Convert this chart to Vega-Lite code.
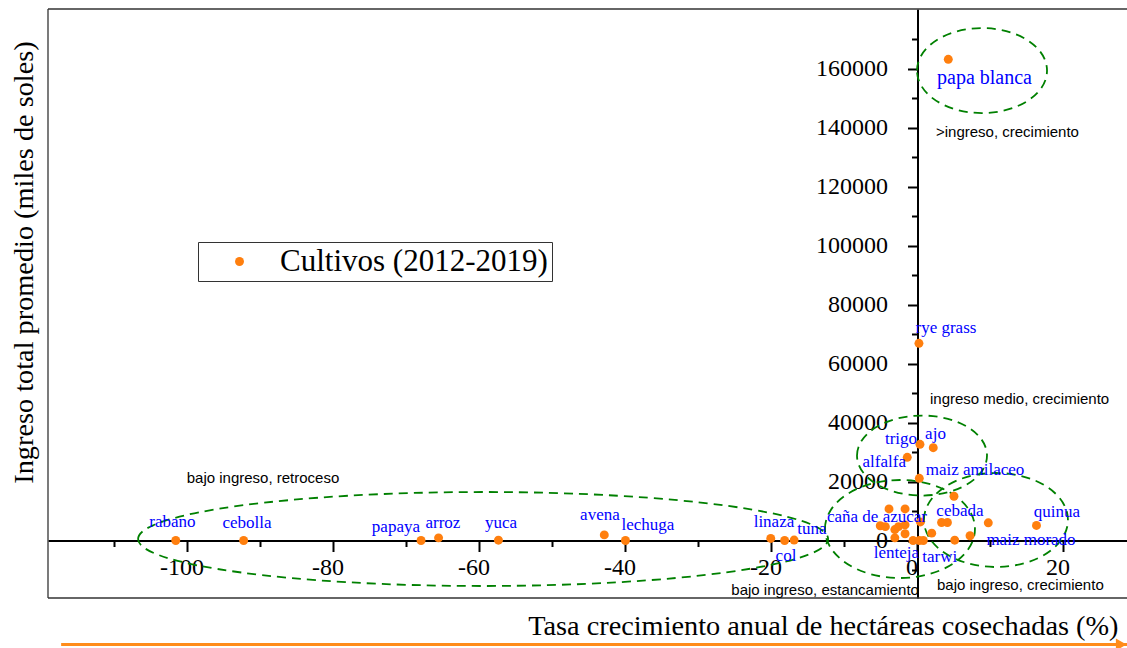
{
  "$schema": "https://vega.github.io/schema/vega-lite/v6.json",
  "width": 1079,
  "height": 589,
  "autosize": "none",
  "padding": {"left": 48, "top": 9, "right": 0, "bottom": 50},
  "background": "white",
  "config": {"view": {"stroke": null}, "axis": {"grid": false}},
  "resolve": {"axis": {"x": "independent", "y": "independent"}},
  "datasets": {
    "cultivos": [
      {"crec": -101.6, "ingreso": 0}, {"crec": -92.3, "ingreso": 0}, {"crec": -68.0, "ingreso": 0},
      {"crec": -65.6, "ingreso": 900}, {"crec": -57.4, "ingreso": 100}, {"crec": -42.9, "ingreso": 1900},
      {"crec": -40.0, "ingreso": 0}, {"crec": -20.1, "ingreso": 700}, {"crec": -18.2, "ingreso": 0},
      {"crec": -16.9, "ingreso": 150}, {"crec": -5.1, "ingreso": 5000}, {"crec": -4.4, "ingreso": 4700},
      {"crec": -3.9, "ingreso": 10700}, {"crec": -3.1, "ingreso": 3700}, {"crec": -2.6, "ingreso": 4700},
      {"crec": -1.7, "ingreso": 5300}, {"crec": -1.7, "ingreso": 10700}, {"crec": -3.1, "ingreso": 900},
      {"crec": -1.7, "ingreso": 2300}, {"crec": -0.6, "ingreso": 0}, {"crec": 0.25, "ingreso": 0},
      {"crec": 0.8, "ingreso": 0}, {"crec": 0.4, "ingreso": 6300}, {"crec": 1.95, "ingreso": 2500},
      {"crec": 3.3, "ingreso": 6100}, {"crec": 4.1, "ingreso": 6100}, {"crec": 5.0, "ingreso": 15000},
      {"crec": 5.1, "ingreso": 100}, {"crec": 7.2, "ingreso": 1600}, {"crec": 9.7, "ingreso": 6000},
      {"crec": 16.3, "ingreso": 5100}, {"crec": -1.4, "ingreso": 28200}, {"crec": 0.34, "ingreso": 32600},
      {"crec": 2.16, "ingreso": 31460}, {"crec": 0.25, "ingreso": 21080}, {"crec": 0.2, "ingreso": 66850},
      {"crec": 4.22, "ingreso": 163120}
    ],
    "etiquetas": [
      {"nombre": "rabano", "lx": -102.05, "ly": 6370},
      {"nombre": "cebolla", "lx": -91.85, "ly": 5830},
      {"nombre": "papaya", "lx": -71.44, "ly": 4680},
      {"nombre": "arroz", "lx": -65.0, "ly": 5830},
      {"nombre": "yuca", "lx": -57.05, "ly": 5830},
      {"nombre": "avena", "lx": -43.5, "ly": 8640},
      {"nombre": "lechuga", "lx": -36.92, "ly": 5250},
      {"nombre": "linaza", "lx": -19.66, "ly": 6370},
      {"nombre": "col", "lx": -18.01, "ly": -5250},
      {"nombre": "tuna", "lx": -14.45, "ly": 3800},
      {"nombre": "caña de azucar", "lx": -5.55, "ly": 7860},
      {"nombre": "lenteja", "lx": -2.88, "ly": -4140},
      {"nombre": "tarwi", "lx": 3.04, "ly": -5490},
      {"nombre": "cebada", "lx": 5.82, "ly": 10000},
      {"nombre": "maiz morado", "lx": 15.55, "ly": 170},
      {"nombre": "quinua", "lx": 19.11, "ly": 9760},
      {"nombre": "maiz amilaceo", "lx": 7.88, "ly": 23900},
      {"nombre": "alfalfa", "lx": -4.55, "ly": 26710},
      {"nombre": "trigo", "lx": -2.26, "ly": 34300},
      {"nombre": "ajo", "lx": 2.47, "ly": 36000},
      {"nombre": "rye grass", "lx": 3.9, "ly": 72140},
      {"nombre": "papa blanca", "lx": 9.18, "ly": 156880}
    ],
    "cuadrantes": [
      {"texto": ">ingreso, crecimiento", "ax": 2.53, "ay": 138470},
      {"texto": "ingreso medio, crecimiento", "ax": 1.71, "ay": 47970},
      {"texto": "bajo ingreso, retroceso", "ax": -100.1, "ay": 21190},
      {"texto": "bajo ingreso, estancamiento", "ax": -25.5, "ay": -16780},
      {"texto": "bajo ingreso, crecimiento", "ax": 2.67, "ay": -14920}
    ]
  },
  "layer": [
    {
      "data": {"values": [{}]},
      "mark": {"type": "rule", "color": "#333333", "strokeWidth": 1.3},
      "encoding": {
        "x": {"datum": -119.1, "type": "quantitative", "scale": {"domain": [-119.1, 28.7], "nice": false, "zero": false}, "axis": null},
        "y": {"datum": -19490, "type": "quantitative", "scale": {"domain": [-19490, 180170], "nice": false, "zero": false}, "axis": null},
        "y2": {"datum": 180170}
      }
    },
    {
      "data": {"values": [{}]},
      "mark": {"type": "rule", "color": "#333333", "strokeWidth": 1.3},
      "encoding": {
        "x": {"datum": -119.1, "type": "quantitative", "scale": {"domain": [-119.1, 28.7], "nice": false, "zero": false}, "axis": null},
        "x2": {"datum": 28.7},
        "y": {"datum": 180170, "type": "quantitative", "scale": {"domain": [-19490, 180170], "nice": false, "zero": false}, "axis": null}
      }
    },
    {
      "data": {"values": [{}]},
      "mark": {"type": "rule", "color": "#333333", "strokeWidth": 1.3},
      "encoding": {
        "x": {"datum": -119.1, "type": "quantitative", "scale": {"domain": [-119.1, 28.7], "nice": false, "zero": false}, "axis": null},
        "x2": {"datum": 28.7},
        "y": {"datum": -19490, "type": "quantitative", "scale": {"domain": [-19490, 180170], "nice": false, "zero": false}, "axis": null}
      }
    },
    {
      "data": {"values": [{"grupo": "retroceso", "cx": -59.5, "cy": 510}]},
      "mark": {"type": "point", "shape": "M-1,0C-1,-0.0752,-0.5523,-0.1362,0,-0.1362C0.5523,-0.1362,1,-0.0752,1,0C1,0.0752,0.5523,0.1362,0,0.1362C-0.5523,0.1362,-1,0.0752,-1,0Z", "size": 476100, "filled": false, "stroke": "#008000", "strokeWidth": 1.8, "strokeDash": [9, 6], "opacity": 1},
      "encoding": {
        "x": {
          "field": "cx", "type": "quantitative", "scale": {"domain": [-119.1, 28.7], "nice": false, "zero": false},
          "axis": {"orient": "bottom", "offset": -57.5, "title": null, "labels": false, "domain": false,
                   "values": [-110, -90, -70, -50, -30, -10, 10],
                   "tickSize": 6, "tickColor": "black", "tickWidth": 2}
        },
        "y": {
          "field": "cy", "type": "quantitative", "scale": {"domain": [-19490, 180170], "nice": false, "zero": false},
          "axis": {"orient": "left", "offset": -869.5, "title": null, "labels": false, "domain": false,
                   "values": [-10000, 10000, 30000, 50000, 70000, 90000, 110000, 130000, 150000, 170000],
                   "tickSize": 6, "tickColor": "black", "tickWidth": 2}
        }
      }
    },
    {
      "data": {"values": [{"grupo": "estancamiento", "cx": -2.4, "cy": 3900}]},
      "mark": {"type": "point", "shape": "M-1,0C-1,-0.3608,-0.5523,-0.6533,0,-0.6533C0.5523,-0.6533,1,-0.3608,1,0C1,0.3608,0.5523,0.6533,0,0.6533C-0.5523,0.6533,-1,0.3608,-1,0Z", "size": 22500, "filled": false, "stroke": "#008000", "strokeWidth": 1.8, "strokeDash": [9, 6], "opacity": 1},
      "encoding": {
        "x": {"field": "cx", "type": "quantitative", "scale": {"domain": [-119.1, 28.7], "nice": false, "zero": false}, "axis": null},
        "y": {"field": "cy", "type": "quantitative", "scale": {"domain": [-19490, 180170], "nice": false, "zero": false}, "axis": null}
      }
    },
    {
      "data": {"values": [{"grupo": "medio", "cx": 0.62, "cy": 28800}]},
      "mark": {"type": "point", "shape": "M-1,0C-1,-0.3399,-0.5523,-0.6154,0,-0.6154C0.5523,-0.6154,1,-0.3399,1,0C1,0.3399,0.5523,0.6154,0,0.6154C-0.5523,0.6154,-1,0.3399,-1,0Z", "size": 16900, "filled": false, "stroke": "#008000", "strokeWidth": 1.8, "strokeDash": [9, 6], "opacity": 1},
      "encoding": {
        "x": {"field": "cx", "type": "quantitative", "scale": {"domain": [-119.1, 28.7], "nice": false, "zero": false}, "axis": null},
        "y": {"field": "cy", "type": "quantitative", "scale": {"domain": [-19490, 180170], "nice": false, "zero": false}, "axis": null}
      }
    },
    {
      "data": {"values": [{"grupo": "crecimiento", "cx": 10.75, "cy": 6950}]},
      "mark": {"type": "point", "shape": "M-1,0C-1,-0.3605,-0.5523,-0.6528,0,-0.6528C0.5523,-0.6528,1,-0.3605,1,0C1,0.3605,0.5523,0.6528,0,0.6528C-0.5523,0.6528,-1,0.3605,-1,0Z", "size": 20736, "filled": false, "stroke": "#008000", "strokeWidth": 1.8, "strokeDash": [9, 6], "opacity": 1},
      "encoding": {
        "x": {"field": "cx", "type": "quantitative", "scale": {"domain": [-119.1, 28.7], "nice": false, "zero": false}, "axis": null},
        "y": {"field": "cy", "type": "quantitative", "scale": {"domain": [-19490, 180170], "nice": false, "zero": false}, "axis": null}
      }
    },
    {
      "data": {"values": [{"grupo": "alto", "cx": 8.84, "cy": 159300}]},
      "mark": {"type": "point", "shape": "M-1,0C-1,-0.3611,-0.5523,-0.6538,0,-0.6538C0.5523,-0.6538,1,-0.3611,1,0C1,0.3611,0.5523,0.6538,0,0.6538C-0.5523,0.6538,-1,0.3611,-1,0Z", "size": 16900, "filled": false, "stroke": "#008000", "strokeWidth": 1.8, "strokeDash": [9, 6], "opacity": 1},
      "encoding": {
        "x": {"field": "cx", "type": "quantitative", "scale": {"domain": [-119.1, 28.7], "nice": false, "zero": false}, "axis": null},
        "y": {"field": "cy", "type": "quantitative", "scale": {"domain": [-19490, 180170], "nice": false, "zero": false}, "axis": null}
      }
    },
    {
      "data": {"name": "cultivos"},
      "mark": {"type": "circle", "size": 80, "opacity": 1},
      "encoding": {
        "x": {
          "field": "crec", "type": "quantitative",
          "scale": {"domain": [-119.1, 28.7], "nice": false, "zero": false},
          "axis": {
            "title": "Tasa crecimiento anual de hectáreas cosechadas (%)",
            "orient": "bottom", "offset": -57.5,
            "values": [-100, -80, -60, -40, -20, 0, 20],
            "labelExpr": "'' + datum.value",
            "tickSize": 11,
            "tickColor": "black", "tickWidth": 2,
            "domainColor": "black", "domainWidth": 2,
            "labelFont": "Liberation Serif", "labelFontSize": 24, "labelColor": "black",
            "labelPadding": 4, "labelOffset": -6,
            "labelOverlap": false, "labelFlush": false, "labelBound": false,
            "titleFont": "Liberation Serif", "titleFontSize": 28.3, "titleFontWeight": "normal", "titleColor": "black",
            "titleAlign": "right", "titleBaseline": "alphabetic", "titleX": 1070, "titleY": 93.5
          }
        },
        "y": {
          "field": "ingreso", "type": "quantitative",
          "scale": {"domain": [-19490, 180170], "nice": false, "zero": false},
          "axis": {
            "title": "Ingreso total promedio (miles de soles)",
            "orient": "left", "offset": -869.5,
            "values": [0, 20000, 40000, 60000, 80000, 100000, 120000, 140000, 160000],
            "labelExpr": "'' + datum.value",
            "tickSize": 10,
            "tickColor": "black", "tickWidth": 2,
            "domainColor": "black", "domainWidth": 2,
            "labelFont": "Liberation Serif", "labelFontSize": 24, "labelColor": "black",
            "labelPadding": 20, "labelOverlap": false, "labelFlush": false, "labelBound": false,
            "titleFont": "Liberation Serif", "titleFontSize": 28.3, "titleFontWeight": "normal", "titleColor": "black",
            "titleAngle": 270, "titleAlign": "center", "titleBaseline": "alphabetic", "titleX": -885.5, "titleY": 253
          }
        },
        "color": {
          "datum": "Cultivos (2012-2019)",
          "type": "nominal",
          "scale": {"range": ["#ff7f0e"]},
          "legend": {
            "title": null, "orient": "none", "legendX": 150, "legendY": 233,
            "strokeColor": "#333333", "fillColor": "white", "padding": 4,
            "labelFont": "Liberation Serif", "labelFontSize": 31, "labelColor": "black", "labelLimit": 0,
            "symbolType": "circle", "symbolSize": 80, "symbolStrokeWidth": 0, "symbolOpacity": 1,
            "symbolOffset": 22, "labelOffset": 25
          }
        }
      }
    },
    {
      "data": {"name": "etiquetas"},
      "mark": {"type": "text", "font": "Liberation Serif", "color": "#0000ff", "align": "center", "baseline": "middle"},
      "encoding": {
        "x": {"field": "lx", "type": "quantitative", "scale": {"domain": [-119.1, 28.7], "nice": false, "zero": false}, "axis": null},
        "y": {"field": "ly", "type": "quantitative", "scale": {"domain": [-19490, 180170], "nice": false, "zero": false}, "axis": null},
        "text": {"field": "nombre"},
        "size": {"condition": {"test": "datum.nombre === 'papa blanca'", "value": 20}, "value": 17}
      }
    },
    {
      "data": {"name": "cuadrantes"},
      "mark": {"type": "text", "font": "Liberation Sans", "fontSize": 15, "color": "black", "align": "left", "baseline": "middle"},
      "encoding": {
        "x": {"field": "ax", "type": "quantitative", "scale": {"domain": [-119.1, 28.7], "nice": false, "zero": false}, "axis": null},
        "y": {"field": "ay", "type": "quantitative", "scale": {"domain": [-19490, 180170], "nice": false, "zero": false}, "axis": null},
        "text": {"field": "texto"}
      }
    },
    {
      "data": {"values": [{}]},
      "mark": {"type": "rule", "color": "#ff8c1a", "strokeWidth": 3},
      "encoding": {
        "x": {"datum": -117.3, "type": "quantitative", "scale": {"domain": [-119.1, 28.7], "nice": false, "zero": false}, "axis": null},
        "x2": {"datum": 28.7},
        "y": {"datum": -35270, "type": "quantitative", "scale": {"domain": [-19490, 180170], "nice": false, "zero": false}, "axis": null}
      }
    },
    {
      "data": {"values": [{}]},
      "mark": {"type": "point", "shape": "triangle-right", "size": 150, "filled": true, "color": "#ff8c1a", "opacity": 1},
      "encoding": {
        "x": {"datum": 27.9, "type": "quantitative", "scale": {"domain": [-119.1, 28.7], "nice": false, "zero": false}, "axis": null},
        "y": {"datum": -35270, "type": "quantitative", "scale": {"domain": [-19490, 180170], "nice": false, "zero": false}, "axis": null}
      }
    }
  ]
}
